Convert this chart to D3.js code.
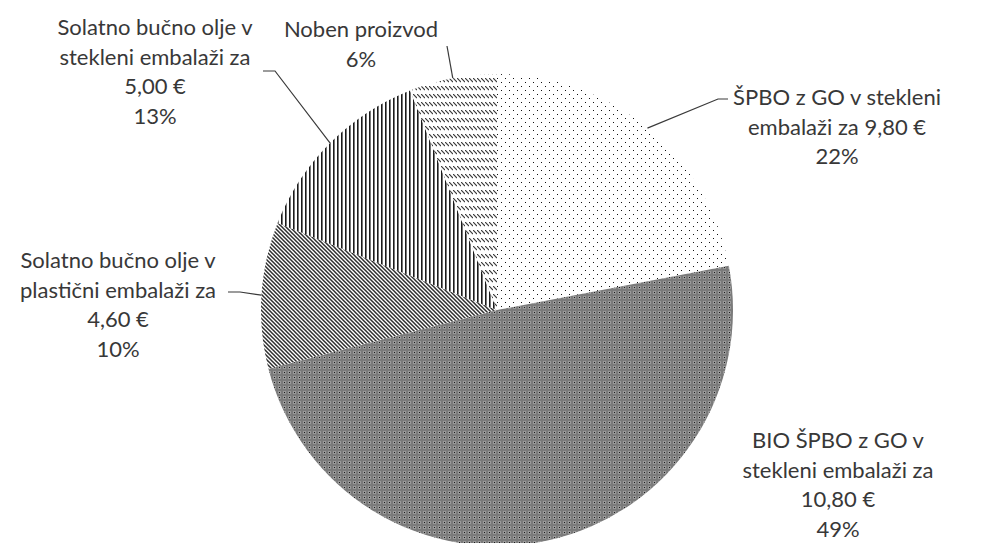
<!DOCTYPE html>
<html>
<head>
<meta charset="utf-8">
<script src="https://cdn.jsdelivr.net/npm/d3@7"></script>
<style>
  html, body { margin: 0; padding: 0; background: #fff; }
  svg { display: block; }
  .lbl { font-family: "Lato", "Open Sans", sans-serif; font-size: 22px; fill: #383838; }
</style>
</head>
<body>
<svg id="chart" width="982" height="543"></svg>
<script>
// Slices, clockwise from 12 o'clock
const products = [
  "ŠPBO z GO v stekleni embalaži za 9,80 €",
  "BIO ŠPBO z GO v stekleni embalaži za 10,80 €",
  "Solatno bučno olje v plastični embalaži za 4,60 €",
  "Solatno bučno olje v stekleni embalaži za 5,00 €",
  "Noben proizvod"
];
const shares = [22, 49, 10, 13, 6];
const percentLabels = ["22%", "49%", "10%", "13%", "6%"];
// Label text lines (text above the percentage)
const labelLines = [
  ["ŠPBO z GO v stekleni", "embalaži za 9,80 €"],
  ["BIO ŠPBO z GO v", "stekleni embalaži za", "10,80 €"],
  ["Solatno bučno olje v", "plastični embalaži za", "4,60 €"],
  ["Solatno bučno olje v", "stekleni embalaži za", "5,00 €"],
  ["Noben proizvod"]
];

const svg = d3.select("#chart");
const cx = 497, cy = 310, R = 236;

// fill patterns
const defs = svg.append("defs");
function pat(id, w, h) {
  return defs.append("pattern").attr("id", id).attr("patternUnits", "userSpaceOnUse")
    .attr("width", w).attr("height", h);
}
// sparse dots
{
  const p = pat("pDots", 8, 8);
  p.append("rect").attr("width", 8).attr("height", 8).attr("fill", "#fff");
  p.append("rect").attr("x", 0).attr("y", 0).attr("width", 1).attr("height", 1).attr("fill", "#111");
  p.append("rect").attr("x", 4).attr("y", 4).attr("width", 1).attr("height", 1).attr("fill", "#111");
}
// dense gray
{
  const p = pat("pGray", 5, 5);
  p.append("rect").attr("width", 5).attr("height", 5).attr("fill", "#7b7b7b");
  p.append("rect").attr("x", 1).attr("y", 1).attr("width", 3).attr("height", 3).attr("fill", "#9a9a9a");
  p.append("rect").attr("x", 2).attr("y", 2).attr("width", 1).attr("height", 1).attr("fill", "#1a1a1a");
}
// downward diagonal lines
{
  const p = pat("pDiag", 4, 4);
  p.append("rect").attr("width", 4).attr("height", 4).attr("fill", "#fff");
  p.append("path").attr("d", "M-1,-1L5,5M-1,3L1,5M3,-1L5,1")
    .attr("stroke", "#2e2e2e").attr("stroke-width", 1.5);
}
// vertical lines
{
  const p = pat("pVert", 4, 4);
  p.append("rect").attr("width", 4).attr("height", 4).attr("fill", "#fff");
  p.append("rect").attr("x", 0).attr("y", 0).attr("width", 1.6).attr("height", 4).attr("fill", "#1a1a1a");
}
// dashed downward diagonals in rows
{
  const p = pat("pDash", 4, 8);
  p.append("rect").attr("width", 4).attr("height", 8).attr("fill", "#fff");
  p.append("path").attr("d", "M0,0L4,4").attr("stroke", "#3a3a3a").attr("stroke-width", 1.2);
}
const fills = ["url(#pDots)", "url(#pGray)", "url(#pDiag)", "url(#pVert)", "url(#pDash)"];

const pie = d3.pie().sort(null).value(d => d).startAngle(0).endAngle(2 * Math.PI);
const arcs = pie(shares);
const arc = d3.arc().innerRadius(0).outerRadius(R);

const g = svg.append("g").attr("transform", `translate(${cx},${cy})`);
g.selectAll("path.slice").data(arcs).enter().append("path")
  .attr("class", "slice")
  .attr("d", arc)
  .attr("fill", (d, i) => fills[i]);

// label placement: text centre x, first line y, leader elbow/end points
const layout = [
  { x: 837, y: 105, leader: [[718, 99], [728, 99]] },
  { x: 838, y: 448, leader: null },
  { x: 118, y: 268, leader: [[240, 292], [228, 292]] },
  { x: 155, y: 35,  leader: [[275, 71], [263, 71]] },
  { x: 361, y: 37,  leader: [[447, 46]] }
];
const lineH = 29.5;

arcs.forEach((a, i) => {
  const L = layout[i];
  if (L.leader) {
    const mid = (a.startAngle + a.endAngle) / 2;
    const p0 = [cx + R * Math.sin(mid), cy - R * Math.cos(mid)];
    svg.append("path")
      .attr("d", d3.line()([p0, ...L.leader]))
      .attr("fill", "none").attr("stroke", "#3a3a3a").attr("stroke-width", 1.2);
  }
  const t = svg.append("text").attr("class", "lbl").attr("text-anchor", "middle");
  const lines = [...labelLines[i], percentLabels[i]];
  lines.forEach((s, k) => {
    t.append("tspan").attr("x", L.x).attr("y", L.y + k * lineH).text(s);
  });
});
</script>
</body>
</html>
